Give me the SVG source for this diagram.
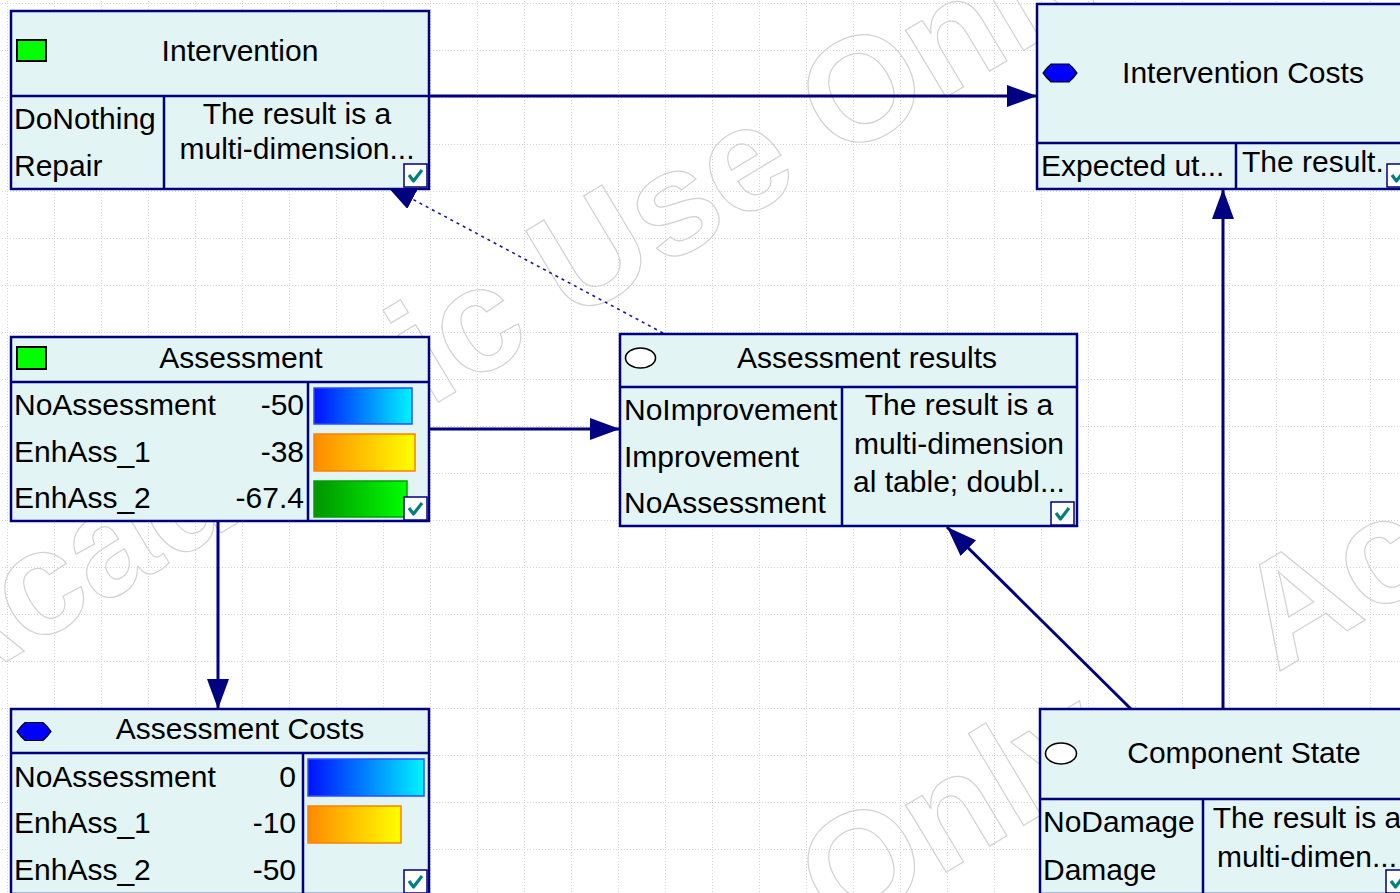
<svg xmlns="http://www.w3.org/2000/svg" width="1400" height="893" viewBox="0 0 1400 893">
  <style>
    .node { fill: #e2f4f4; stroke: #000080; stroke-width: 2.5; }
    .div { stroke: #000080; stroke-width: 2.5; fill: none; }
    .t { font-family: "Liberation Sans", Arial, sans-serif; font-size: 30px; fill: #000; }
    .mid { text-anchor: middle; }
    .end { text-anchor: end; }
    .edge { stroke: #000080; stroke-width: 3; fill: none; }
    .dotted { stroke: #1a1a99; stroke-width: 1.6; stroke-dasharray: 3 4; fill: none; }
    .wm { font-family: "Liberation Sans", Arial, sans-serif; font-weight: bold; font-size: 148px; fill: none; stroke: #d2d2d2; stroke-width: 1.2; }
    .chkbox { fill: #ffffff; stroke: #000080; stroke-width: 1.5; }
    .chk { fill: none; stroke: #008080; stroke-width: 3.2; stroke-linejoin: round; }
    .dec { fill: #00ff00; stroke: #000; stroke-width: 2; }
    .util { fill: #0000ff; stroke: #000; stroke-width: 1.2; }
    .chance { fill: #ffffff; stroke: #000; stroke-width: 1.6; }
  </style>
  <defs>
    <pattern id="grid" x="7" y="3" width="47" height="47" patternUnits="userSpaceOnUse">
      <line x1="0.5" y1="0" x2="0.5" y2="47" stroke="#d4d4d4" stroke-width="1" stroke-dasharray="1 2"/>
      <line x1="0" y1="0.5" x2="47" y2="0.5" stroke="#d4d4d4" stroke-width="1" stroke-dasharray="1 2"/>
    </pattern>
    <linearGradient id="gBlue" x1="0" y1="0" x2="1" y2="0">
      <stop offset="0" stop-color="#0010ff"/>
      <stop offset="1" stop-color="#00f4ff"/>
    </linearGradient>
    <linearGradient id="gOrange" x1="0" y1="0" x2="1" y2="0">
      <stop offset="0" stop-color="#ff8a00"/>
      <stop offset="1" stop-color="#ffff00"/>
    </linearGradient>
    <linearGradient id="gGreen" x1="0" y1="0" x2="1" y2="0">
      <stop offset="0" stop-color="#009400"/>
      <stop offset="1" stop-color="#00ff00"/>
    </linearGradient>
    <marker id="arrow" markerUnits="userSpaceOnUse" markerWidth="32" markerHeight="24" refX="30" refY="11" orient="auto">
      <path d="M0,0 L30,11 L0,22 Z" fill="#000080"/>
    </marker>
    <marker id="arrowSmall" markerUnits="userSpaceOnUse" markerWidth="32" markerHeight="24" refX="30" refY="11" orient="auto">
      <path d="M0,0 L30,11 L0,22 Z" fill="#000080"/>
    </marker>
    <g id="check">
      <rect class="chkbox" x="0" y="0" width="23" height="23"/>
      <path class="chk" d="M5,11 L9.5,17 L18,6"/>
    </g>
    <polygon id="utilIcon" class="util" points="-17,0 -13,-5 -9,-9 9,-9 13,-5 17,0 13,5 9,9 -9,9 -13,5"/>
  </defs>

  <!-- background and grid -->
  <rect x="0" y="0" width="1400" height="893" fill="#ffffff"/>
  <rect x="0" y="0" width="1400" height="893" fill="url(#grid)"/>

  <!-- licence watermark -->
  <g id="watermark">
    <text class="wm" transform="translate(-64,704) rotate(-31)">Academic Use Only</text>
    <text class="wm" transform="translate(-64,1479) rotate(-31)">Academic Use Only</text>
    <text class="wm" transform="translate(1277,673) rotate(-31)">Academic Use Only</text>
  </g>

  <!-- connectors -->
  <g id="connectors">
    <line class="edge" x1="429" y1="96" x2="1037" y2="96" marker-end="url(#arrow)"/>
    <line class="edge" x1="429" y1="429" x2="620" y2="429" marker-end="url(#arrow)"/>
    <line class="edge" x1="218" y1="521" x2="218" y2="709" marker-end="url(#arrow)"/>
    <line class="edge" x1="1223" y1="709" x2="1223" y2="189" marker-end="url(#arrow)"/>
    <line class="edge" x1="1131" y1="709" x2="947" y2="527" marker-end="url(#arrow)"/>
    <line class="dotted" x1="663" y1="333" x2="386" y2="185" marker-end="url(#arrowSmall)"/>
  </g>

  <!-- Intervention (decision) -->
  <g id="intervention">
    <rect class="node" x="11" y="11" width="418" height="178"/>
    <line class="div" x1="11" y1="96" x2="429" y2="96"/>
    <line class="div" x1="164" y1="96" x2="164" y2="189"/>
    <rect class="dec" x="17" y="40" width="29" height="21"/>
    <text class="t mid" x="240" y="61">Intervention</text>
    <text class="t" x="14" y="129">DoNothing</text>
    <text class="t" x="14" y="176">Repair</text>
    <text class="t mid" x="297" y="124">The result is a</text>
    <text class="t mid" x="297" y="159">multi-dimension...</text>
    <use href="#check" x="404" y="164"/>
  </g>

  <!-- Intervention Costs (utility) -->
  <g id="intervention-costs">
    <rect class="node" x="1037" y="4" width="374" height="185"/>
    <line class="div" x1="1037" y1="143" x2="1411" y2="143"/>
    <line class="div" x1="1236" y1="143" x2="1236" y2="189"/>
    <use href="#utilIcon" x="1060" y="73"/>
    <text class="t mid" x="1243" y="83">Intervention Costs</text>
    <text class="t" x="1041" y="176">Expected ut...</text>
    <text class="t" x="1242" y="172">The result.</text>
    <use href="#check" x="1387" y="164"/>
  </g>

  <!-- Assessment (decision) -->
  <g id="assessment">
    <rect class="node" x="11" y="337" width="418" height="184"/>
    <line class="div" x1="11" y1="382" x2="429" y2="382"/>
    <line class="div" x1="308" y1="382" x2="308" y2="521"/>
    <rect class="dec" x="17" y="347" width="29" height="22"/>
    <text class="t mid" x="241" y="368">Assessment</text>
    <text class="t" x="14" y="415">NoAssessment</text>
    <text class="t" x="14" y="462">EnhAss_1</text>
    <text class="t" x="14" y="508">EnhAss_2</text>
    <text class="t end" x="304" y="415">-50</text>
    <text class="t end" x="304" y="462">-38</text>
    <text class="t end" x="304" y="508">-67.4</text>
    <rect x="314" y="388" width="98" height="36" fill="url(#gBlue)" stroke="#2a4cff" stroke-width="1.5"/>
    <rect x="314" y="434" width="101" height="37" fill="url(#gOrange)" stroke="#ff8000" stroke-width="1.5"/>
    <rect x="314" y="481" width="93" height="36" fill="url(#gGreen)" stroke="#00a000" stroke-width="1.5"/>
    <use href="#check" x="404" y="497"/>
  </g>

  <!-- Assessment results (chance) -->
  <g id="assessment-results">
    <rect class="node" x="620" y="334" width="457" height="192"/>
    <line class="div" x1="620" y1="387" x2="1077" y2="387"/>
    <line class="div" x1="842" y1="387" x2="842" y2="526"/>
    <ellipse class="chance" cx="640.5" cy="358" rx="15" ry="10"/>
    <text class="t mid" x="867" y="368">Assessment results</text>
    <text class="t" x="624" y="420">NoImprovement</text>
    <text class="t" x="624" y="467">Improvement</text>
    <text class="t" x="624" y="513">NoAssessment</text>
    <text class="t mid" x="959" y="415">The result is a</text>
    <text class="t mid" x="959" y="454">multi-dimension</text>
    <text class="t mid" x="959" y="492">al table; doubl...</text>
    <use href="#check" x="1051" y="502"/>
  </g>

  <!-- Assessment Costs (utility) -->
  <g id="assessment-costs">
    <rect class="node" x="11" y="709" width="418" height="185"/>
    <line class="div" x1="11" y1="753" x2="429" y2="753"/>
    <line class="div" x1="303" y1="753" x2="303" y2="894"/>
    <use href="#utilIcon" x="34" y="731.5"/>
    <text class="t mid" x="240" y="739">Assessment Costs</text>
    <text class="t" x="14" y="787">NoAssessment</text>
    <text class="t" x="14" y="833">EnhAss_1</text>
    <text class="t" x="14" y="880">EnhAss_2</text>
    <text class="t end" x="296" y="787">0</text>
    <text class="t end" x="296" y="833">-10</text>
    <text class="t end" x="296" y="880">-50</text>
    <rect x="308" y="759" width="116" height="37" fill="url(#gBlue)" stroke="#2a4cff" stroke-width="1.5"/>
    <rect x="308" y="806" width="93" height="37" fill="url(#gOrange)" stroke="#ff8000" stroke-width="1.5"/>
    <use href="#check" x="404" y="870"/>
  </g>

  <!-- Component State (chance) -->
  <g id="component-state">
    <rect class="node" x="1040" y="709" width="371" height="185"/>
    <line class="div" x1="1040" y1="799" x2="1411" y2="799"/>
    <line class="div" x1="1203" y1="799" x2="1203" y2="894"/>
    <ellipse class="chance" cx="1061" cy="753.5" rx="15.5" ry="10.5"/>
    <text class="t mid" x="1244" y="763">Component State</text>
    <text class="t" x="1043" y="832">NoDamage</text>
    <text class="t" x="1043" y="880">Damage</text>
    <text class="t mid" x="1307" y="828">The result is a</text>
    <text class="t mid" x="1307" y="867">multi-dimen...</text>
    <use href="#check" x="1386" y="870"/>
  </g>
</svg>
